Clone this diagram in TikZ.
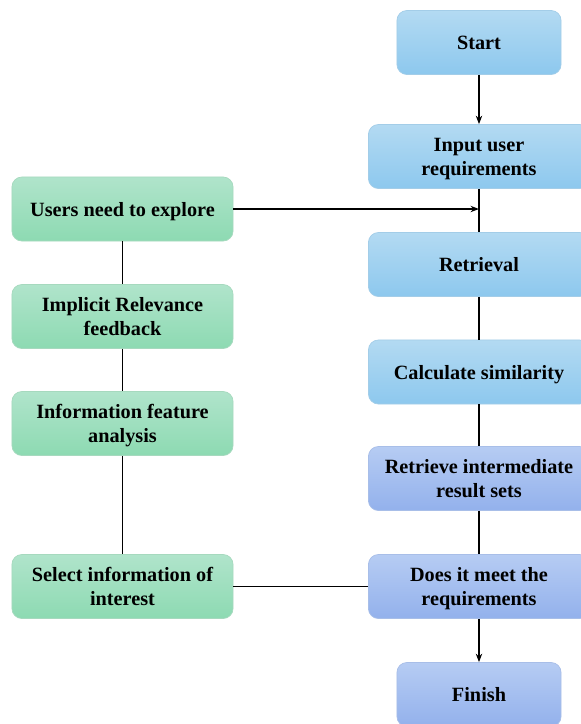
\documentclass[tikz,border=0pt]{standalone}
\usepackage{fontspec}
\setmainfont{Liberation Serif}
\usetikzlibrary{arrows.meta}

\definecolor{greentop}{HTML}{B0E4CB}
\definecolor{greenbot}{HTML}{8DDAB2}
\definecolor{greenline}{HTML}{A6D9BE}
\definecolor{bluetop}{HTML}{B3DAF2}
\definecolor{bluebot}{HTML}{8DC8EE}
\definecolor{blueline}{HTML}{A3CDE8}
\definecolor{violettop}{HTML}{B6CCF3}
\definecolor{violetbot}{HTML}{93B1EC}
\definecolor{violetline}{HTML}{A8BEE8}

\tikzset{
    box/.style={rounded corners=7pt, minimum width=5.525cm, minimum height=1.6cm,
        align=center, font=\fontsize{14.4}{17}\selectfont\bfseries, line width=0.5pt,
        text depth=0pt},
    greenbox/.style={box, draw=greenline, top color=greentop, bottom color=greenbot},
    bluebox/.style={box, draw=blueline, top color=bluetop, bottom color=bluebot},
    violetbox/.style={box, draw=violetline, top color=violettop, bottom color=violetbot},
    link/.style={line width=1.3pt},
    arrow/.style={link, -{Stealth[length=6pt, width=4.5pt]}}
}

\begin{document}
\begin{tikzpicture}[x=0.025cm, y=-0.025cm]
        \useasboundingbox (0,0) rectangle (580,724);

        % main flow on the right
        \node[bluebox, minimum width=4.1cm] (start) at (479, 42.5) {Start};
        \node[bluebox] (input) at (479,156.5) {Input user\\requirements};
        \node[bluebox] (retrieval) at (479,264.5) {Retrieval};
        \node[bluebox] (similarity) at (479,372) {Calculate similarity};
        \node[violetbox] (intermediate) at (479,478.5) {Retrieve intermediate\\result sets};
        \node[violetbox] (meet) at (479,586.5) {Does it meet the\\requirements};
        \node[violetbox, minimum width=4.1cm] (finish) at (479,694.5) {Finish};

        % user side on the left
        \node[greenbox] (explore) at (122.5,209) {Users need to explore};
        \node[greenbox] (implicit) at (122.5,316.5) {Implicit Relevance\\feedback};
        \node[greenbox] (feature) at (122.5,423.5) {Information feature\\analysis};
        \node[greenbox] (select) at (122.5,586.5) {Select information of\\interest};

        \coordinate (join) at (input.south |- explore.east);

        \draw[arrow] (start) -- (input);
        \draw[link] (input) -- (retrieval);
        \draw[arrow] (explore) -- (join);
        \draw[link] (retrieval) -- (similarity);
        \draw[link] (similarity) -- (intermediate);
        \draw[link] (intermediate) -- (meet);
        \draw[arrow] (meet) -- (finish);

        \draw[link] (explore) -- (implicit);
        \draw[link] (implicit) -- (feature);
        \draw[link] (feature) -- (select);
        \draw[link] (select) -- (meet);
    \end{tikzpicture}
\end{document}
